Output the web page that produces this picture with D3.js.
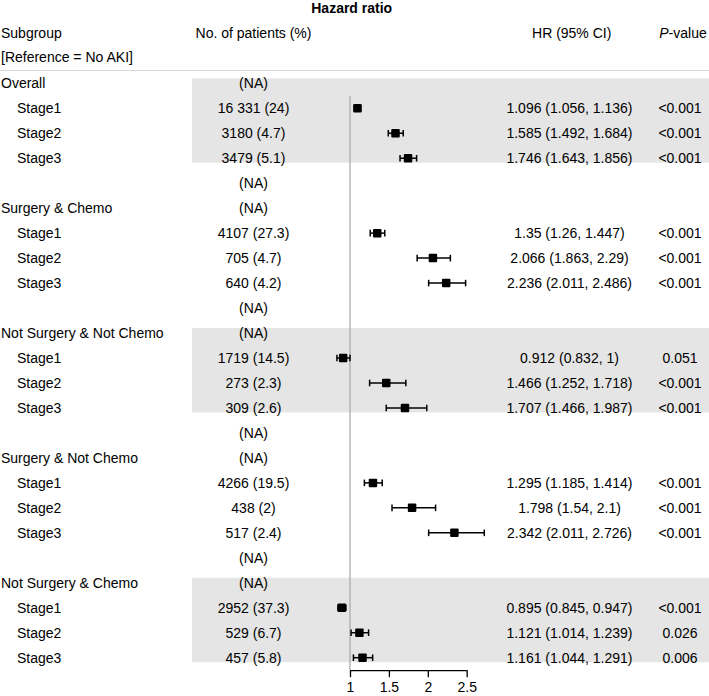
<!DOCTYPE html>
<html>
<head>
<meta charset="utf-8">
<script src="https://cdn.jsdelivr.net/npm/d3@7"></script>
<style>
  html, body { margin: 0; padding: 0; background: #fff; }
  svg { display: block; font-family: "Liberation Sans", Arial, sans-serif; }
  text { white-space: pre; }
</style>
</head>
<body>
<svg id="chart" width="709" height="696"></svg>
<script>
// ---- data ----
const subgroups = [
  "Overall", "Stage1", "Stage2", "Stage3", "",
  "Surgery & Chemo", "Stage1", "Stage2", "Stage3", "",
  "Not Surgery & Not Chemo", "Stage1", "Stage2", "Stage3", "",
  "Surgery & Not Chemo", "Stage1", "Stage2", "Stage3", "",
  "Not Surgery & Chemo", "Stage1", "Stage2", "Stage3"
];
const isGroupHeader = [
  true, false, false, false, false,
  true, false, false, false, false,
  true, false, false, false, false,
  true, false, false, false, false,
  true, false, false, false
];
const patients = [
  "(NA)", "16 331 (24)", "3180 (4.7)", "3479 (5.1)", "(NA)",
  "(NA)", "4107 (27.3)", "705 (4.7)", "640 (4.2)", "(NA)",
  "(NA)", "1719 (14.5)", "273 (2.3)", "309 (2.6)", "(NA)",
  "(NA)", "4266 (19.5)", "438 (2)", "517 (2.4)", "(NA)",
  "(NA)", "2952 (37.3)", "529 (6.7)", "457 (5.8)"
];
const hr = [
  null, 1.096, 1.585, 1.746, null,
  null, 1.35, 2.066, 2.236, null,
  null, 0.912, 1.466, 1.707, null,
  null, 1.295, 1.798, 2.342, null,
  null, 0.895, 1.121, 1.161
];
const ciLow = [
  null, 1.056, 1.492, 1.643, null,
  null, 1.26, 1.863, 2.011, null,
  null, 0.832, 1.252, 1.466, null,
  null, 1.185, 1.54, 2.011, null,
  null, 0.845, 1.014, 1.044
];
const ciHigh = [
  null, 1.136, 1.684, 1.856, null,
  null, 1.447, 2.29, 2.486, null,
  null, 1, 1.718, 1.987, null,
  null, 1.414, 2.1, 2.726, null,
  null, 0.947, 1.239, 1.291
];
const pValues = [
  "", "<0.001", "<0.001", "<0.001", "",
  "", "<0.001", "<0.001", "<0.001", "",
  "", "0.051", "<0.001", "<0.001", "",
  "", "<0.001", "<0.001", "<0.001", "",
  "", "<0.001", "0.026", "0.006"
];
const shadedGroups = [0, 10, 20]; // starting row of shaded groups
const tickValues = [1, 1.5, 2, 2.5];
const tickLabels = ["1", "1.5", "2", "2.5"];

// ---- layout ----
const W = 709, H = 696;
const svg = d3.select("#chart");
const FS = 14;
const nRows = subgroups.length;

const x = d3.scaleLinear().domain([1, 2.5]).range([350, 466.7]);
const y = d3.scalePoint().domain(d3.range(nRows)).range([83.3, 657.7]);
const rowStep = y.step();
const axisY = y(nRows - 1) + rowStep / 2;

// shaded bands
svg.append("g").selectAll("rect")
  .data(shadedGroups)
  .join("rect")
  .attr("x", 192)
  .attr("width", W - 192)
  .attr("y", d => y(d) - 5)
  .attr("height", d => y(d + 3) - y(d) + 9.5)
  .attr("fill", "#e5e5e5");

// header separator
svg.append("line")
  .attr("x1", 0).attr("x2", W)
  .attr("y1", 70.5).attr("y2", 70.5)
  .attr("stroke", "#d6d6d6").attr("stroke-width", 1);

// headers
const hdr = svg.append("g").attr("font-size", FS).attr("fill", "#000");
hdr.append("text").attr("x", 351.7).attr("y", 8).attr("dy", "0.35em")
  .attr("text-anchor", "middle").attr("font-weight", "bold").text("Hazard ratio");
hdr.append("text").attr("x", 1).attr("y", 33.3).attr("dy", "0.35em").text("Subgroup");
hdr.append("text").attr("x", 1).attr("y", 57).attr("dy", "0.35em").text("[Reference = No AKI]");
hdr.append("text").attr("x", 253.5).attr("y", 33.3).attr("dy", "0.35em")
  .attr("text-anchor", "middle").text("No. of patients (%)");
hdr.append("text").attr("x", 571.7).attr("y", 33.3).attr("dy", "0.35em")
  .attr("text-anchor", "middle").text("HR (95% CI)");
const pv = hdr.append("text").attr("x", 683).attr("y", 33.3).attr("dy", "0.35em")
  .attr("text-anchor", "middle");
pv.append("tspan").attr("font-style", "italic").text("P");
pv.append("tspan").text("-value");

// reference line
svg.append("line")
  .attr("x1", x(1)).attr("x2", x(1))
  .attr("y1", y(1) - rowStep / 2).attr("y2", axisY)
  .attr("stroke", "#a6a6a6").attr("stroke-width", 1.2);

// table text
const rows = svg.append("g").attr("font-size", FS).attr("fill", "#000");
const idx = d3.range(nRows);
rows.selectAll("text.sub").data(idx).join("text")
  .attr("class", "sub")
  .attr("x", i => isGroupHeader[i] ? 1 : 17)
  .attr("y", i => y(i)).attr("dy", "0.35em")
  .text(i => subgroups[i]);
rows.selectAll("text.pat").data(idx).join("text")
  .attr("class", "pat")
  .attr("x", 253.5).attr("text-anchor", "middle")
  .attr("y", i => y(i)).attr("dy", "0.35em")
  .text(i => patients[i]);
rows.selectAll("text.hr").data(idx.filter(i => hr[i] != null)).join("text")
  .attr("class", "hr")
  .attr("x", 569.5).attr("text-anchor", "middle")
  .attr("y", i => y(i)).attr("dy", "0.35em")
  .text(i => `${hr[i]} (${ciLow[i]}, ${ciHigh[i]})`);
rows.selectAll("text.pv").data(idx.filter(i => pValues[i] !== "")).join("text")
  .attr("class", "pv")
  .attr("x", 680).attr("text-anchor", "middle")
  .attr("y", i => y(i)).attr("dy", "0.35em")
  .text(i => pValues[i]);

// CI whiskers & boxes
const est = idx.filter(i => hr[i] != null);
const g = svg.append("g");
g.selectAll("line.ci").data(est).join("line")
  .attr("class", "ci")
  .attr("x1", i => x(ciLow[i])).attr("x2", i => x(ciHigh[i]))
  .attr("y1", i => y(i)).attr("y2", i => y(i))
  .attr("stroke", "#000").attr("stroke-width", 1.5);
g.selectAll("line.capl").data(est).join("line")
  .attr("class", "capl")
  .attr("x1", i => x(ciLow[i])).attr("x2", i => x(ciLow[i]))
  .attr("y1", i => y(i) - 3.3).attr("y2", i => y(i) + 3.3)
  .attr("stroke", "#000").attr("stroke-width", 1.5);
g.selectAll("line.caph").data(est).join("line")
  .attr("class", "caph")
  .attr("x1", i => x(ciHigh[i])).attr("x2", i => x(ciHigh[i]))
  .attr("y1", i => y(i) - 3.3).attr("y2", i => y(i) + 3.3)
  .attr("stroke", "#000").attr("stroke-width", 1.5);
const bs = 8.5;
g.selectAll("rect.box").data(est).join("rect")
  .attr("class", "box")
  .attr("x", i => x(hr[i]) - bs / 2).attr("y", i => y(i) - bs / 2)
  .attr("width", bs).attr("height", bs)
  .attr("rx", 1)
  .attr("fill", "#000");

// axis
const axis = d3.axisBottom(x)
  .tickValues(tickValues)
  .tickFormat((d, i) => tickLabels[i])
  .tickSize(7).tickSizeOuter(0).tickPadding(5);
const ag = svg.append("g").attr("transform", `translate(0,${axisY})`).call(axis);
ag.selectAll("text").attr("font-size", FS).attr("font-family", "Liberation Sans, Arial, sans-serif").attr("fill", "#000");
ag.selectAll("line, path").attr("stroke", "#000").attr("stroke-width", 1.3);
</script>
</body>
</html>
